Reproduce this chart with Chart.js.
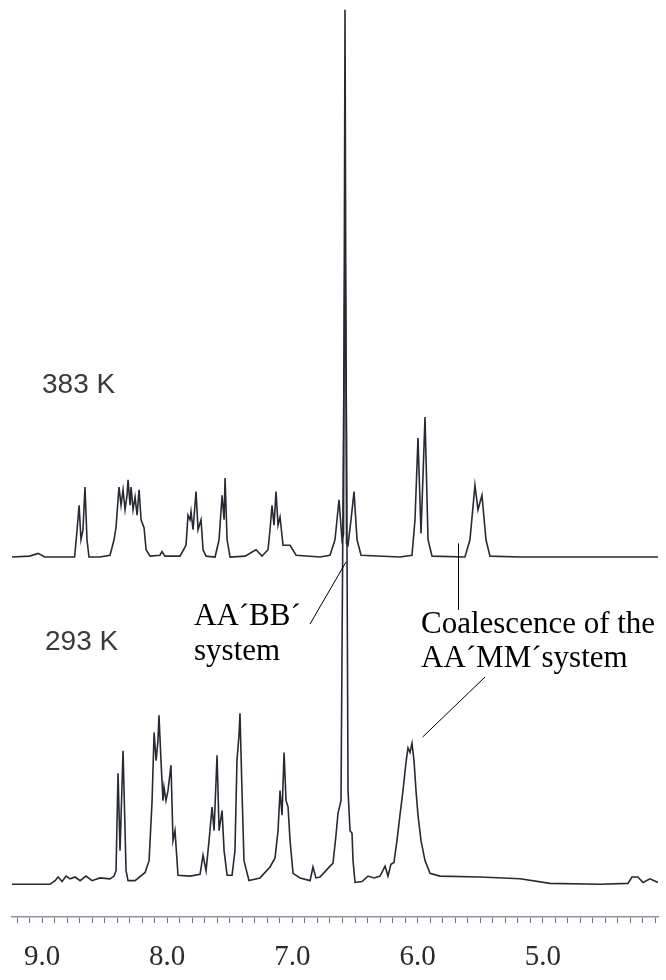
<!DOCTYPE html>
<html>
<head>
<meta charset="utf-8">
<script src="https://cdn.jsdelivr.net/npm/chart.js@4.4.1/dist/chart.umd.min.js"></script>
<style>
  html, body { margin: 0; padding: 0; background: #fff; }
  #nmr { display: block; }
</style>
</head>
<body>
<canvas id="nmr" width="666" height="980"></canvas>
<script>
// spectrum at 383 K (ppm, intensity)
const ppm383 = [9.24, 9.10, 9.03, 8.98, 8.74, 8.72, 8.704, 8.689, 8.673, 8.657, 8.641, 8.625, 8.54,
    8.457, 8.425, 8.409, 8.393, 8.385, 8.369, 8.353, 8.337, 8.321, 8.313, 8.297, 8.289, 8.273, 8.257,
    8.241, 8.225, 8.209, 8.185, 8.169, 8.137, 8.058, 8.042, 8.018, 7.898, 7.850, 7.834, 7.818, 7.810,
    7.794, 7.770, 7.754, 7.730, 7.714, 7.690, 7.618, 7.586, 7.562, 7.546, 7.538, 7.522, 7.498, 7.379,
    7.291, 7.243, 7.195, 7.179, 7.163, 7.147, 7.131, 7.115, 7.099, 7.075, 7.019, 6.971, 6.780, 6.700,
    6.660, 6.628, 6.604, 6.592, 6.580, 6.568, 6.556, 6.532, 6.508, 6.484, 6.452, 6.141, 6.045, 6.021,
    5.997, 5.973, 5.941, 5.917, 5.885, 5.622, 5.582, 5.542, 5.518, 5.486, 5.454, 5.422, 5.182, 4.06];
const int383 = [0, 0.1, 0.4, 0, 0, 3.0, 5.7, 1.9, 3.0, 7.7, 1.9, 0, 0,
    0.2, 1.9, 3.3, 6.3, 7.7, 5.7, 7.4, 5.2, 6.8, 8.5, 5.7, 7.7, 5.2, 6.6,
    4.6, 7.4, 4.1, 3.2, 0.8, 0.1, 0.2, 0.6, 0.1, 0.1, 1.3, 4.6, 4.1, 5.0,
    3.0, 7.2, 3.0, 4.1, 0.8, 0.1, 0, 1.9, 6.8, 4.1, 8.7, 1.9, 0, 0.1,
    0.8, 0.1, 0.8, 3.0, 5.7, 3.5, 7.2, 3.5, 4.4, 1.3, 1.3, 0.2, 0, 0.2,
    1.9, 6.3, 1.9, 2.5, 60.2, 1.5, 1.3, 4.1, 7.2, 1.9, 0.2, 0, 0.2, 4.1,
    13.1, 2.6, 15.4, 1.9, 0.1, 0, 1.9, 7.9, 5.2, 6.8, 1.9, 0.1, 0, 0];

// spectrum at 293 K (ppm, intensity)
const ppm293 = [9.24, 8.936, 8.896, 8.872, 8.840, 8.808, 8.776, 8.736, 8.696, 8.649, 8.601, 8.537,
    8.457, 8.425, 8.409, 8.393, 8.377, 8.353, 8.329, 8.313, 8.257, 8.177, 8.145, 8.121, 8.105, 8.089,
    8.074, 8.066, 8.050, 8.034, 8.026, 8.010, 7.994, 7.970, 7.954, 7.938, 7.914, 7.818, 7.738, 7.714,
    7.690, 7.666, 7.642, 7.626, 7.602, 7.586, 7.562, 7.546, 7.522, 7.482, 7.459, 7.443, 7.427, 7.419,
    7.403, 7.387, 7.347, 7.259, 7.179, 7.139, 7.115, 7.099, 7.083, 7.067, 7.051, 7.035, 7.019, 6.995,
    6.939, 6.859, 6.836, 6.812, 6.780, 6.732, 6.700, 6.676, 6.652, 6.636, 6.612, 6.592, 6.580, 6.568,
    6.556, 6.540, 6.524, 6.516, 6.500, 6.444, 6.396, 6.348, 6.300, 6.260, 6.237, 6.213, 6.189, 6.165,
    6.141, 6.117, 6.093, 6.077, 6.061, 6.045, 6.029, 6.013, 5.997, 5.973, 5.941, 5.901, 5.821, 5.502,
    5.182, 4.943, 4.543, 4.320, 4.288, 4.240, 4.200, 4.144, 4.08];
const int293 = [0, 0, 0.4, 0.8, 0.3, 0.9, 0.6, 0.8, 0.4, 0.9, 0.4, 0.7,
    0.6, 0.9, 1.5, 12.2, 3.7, 14.7, 1.5, 0.4, 0.4, 1.3, 2.6, 9.2, 16.7, 13.6,
    15.8, 18.6, 13.6, 9.2, 10.7, 9.2, 10.3, 13.1, 4.8, 5.9, 1.0, 0.9, 1.1, 3.2,
    1.5, 4.8, 8.5, 5.9, 14.2, 5.9, 8.1, 3.7, 1.0, 1.0, 3.7, 13.6, 16.4, 18.8,
    10.3, 2.6, 0.4, 0.7, 1.9, 2.9, 5.9, 10.3, 7.6, 14.5, 9.2, 8.5, 4.8, 1.2,
    0.7, 0.4, 1.9, 0.7, 0.8, 1.5, 2.0, 2.3, 5.4, 7.8, 9.2, 50, 70.8, 50,
    10.3, 5.9, 5.6, 2.6, 0.2, 0.3, 0.9, 0.7, 0.9, 2.0, 0.9, 2.2, 2.4, 4.8,
    7.6, 10.3, 13.4, 15.0, 14.5, 15.5, 13.6, 10.3, 7.6, 4.8, 2.6, 1.2, 0.9, 0.8,
    0.6, 0.1, 0, 0.1, 0.8, 0.8, 0.2, 0.6, 0.2];

const temps = ['383 K', '293 K'];
const axisLabels = [9, 8, 7, 6, 5];

// vertical stacking of the two traces
const base383 = 39.6;
const base293 = 3.6;

const lineColor = '#262a33';

function trace(ppm, vals, base) {
    return ppm.map((p, i) => ({ x: p, y: vals[i] + base }));
}

// texts and leader lines drawn on top of the chart
const notes = {
    id: 'notes',
    afterDraw(chart) {
        const ctx = chart.ctx;
        const x = chart.scales.x, y = chart.scales.y;
        ctx.save();
        ctx.fillStyle = '#3a3a3a';
        ctx.font = '28px "Liberation Sans", Arial, sans-serif';
        ctx.textBaseline = 'alphabetic';
        ctx.fillText(temps[0], 42, 393);
        ctx.fillText(temps[1], 45, 650);

        ctx.fillStyle = '#000';
        ctx.font = '31px "Liberation Serif", "Times New Roman", serif';
        ctx.fillText('AA\u00b4BB\u00b4', 194, 625);
        ctx.fillText('system', 194, 660);
        ctx.fillText('Coalescence of the', 421, 633);
        ctx.fillText('AA\u00b4MM\u00b4system', 421, 667);

        ctx.strokeStyle = '#000';
        ctx.lineWidth = 1;
        ctx.beginPath();
        ctx.moveTo(310, 624);
        ctx.lineTo(x.getPixelForValue(6.57), y.getPixelForValue(base383 - 0.5));
        const cx = Math.round(x.getPixelForValue(5.677)) + 0.5;
        ctx.moveTo(cx, y.getPixelForValue(base383 + 1.5));
        ctx.lineTo(cx, 610);
        ctx.moveTo(485, 677);
        ctx.lineTo(x.getPixelForValue(5.96), y.getPixelForValue(base293 + 16.2));
        ctx.stroke();
        ctx.restore();
    }
};

new Chart(document.getElementById('nmr').getContext('2d'), {
    type: 'line',
    data: {
        datasets: [
            { label: temps[0], data: trace(ppm383, int383, base383) },
            { label: temps[1], data: trace(ppm293, int293, base293) }
        ]
    },
    options: {
        responsive: false,
        animation: false,
        devicePixelRatio: 1,
        layout: { padding: { left: 12, right: 8, top: 8, bottom: 0 } },
        elements: {
            line: { borderColor: lineColor, borderWidth: 1.6, tension: 0 },
            point: { radius: 0 }
        },
        plugins: { legend: { display: false }, tooltip: { enabled: false } },
        scales: {
            x: {
                type: 'linear',
                reverse: true,
                min: 4.08,
                max: 9.24,
                afterFit: s => { s.height = 63; s.paddingLeft = 0; s.paddingRight = 0; },
                border: { display: true, color: '#8a96a8', width: 1.5 },
                grid: { drawOnChartArea: false, tickLength: 6, tickColor: '#6b7280' },
                ticks: {
                    stepSize: 0.1,
                    autoSkip: false,
                    includeBounds: false,
                    maxRotation: 0,
                    padding: 17,
                    color: '#2a2a2a',
                    font: { family: '"Liberation Serif", "Times New Roman", serif', size: 29 },
                    callback: v => axisLabels.some(a => Math.abs(v - a) < 1e-6) ? v.toFixed(1) : ''
                }
            },
            y: { display: false, min: 0, max: 100 }
        }
    },
    plugins: [notes]
});
</script>
</body>
</html>
